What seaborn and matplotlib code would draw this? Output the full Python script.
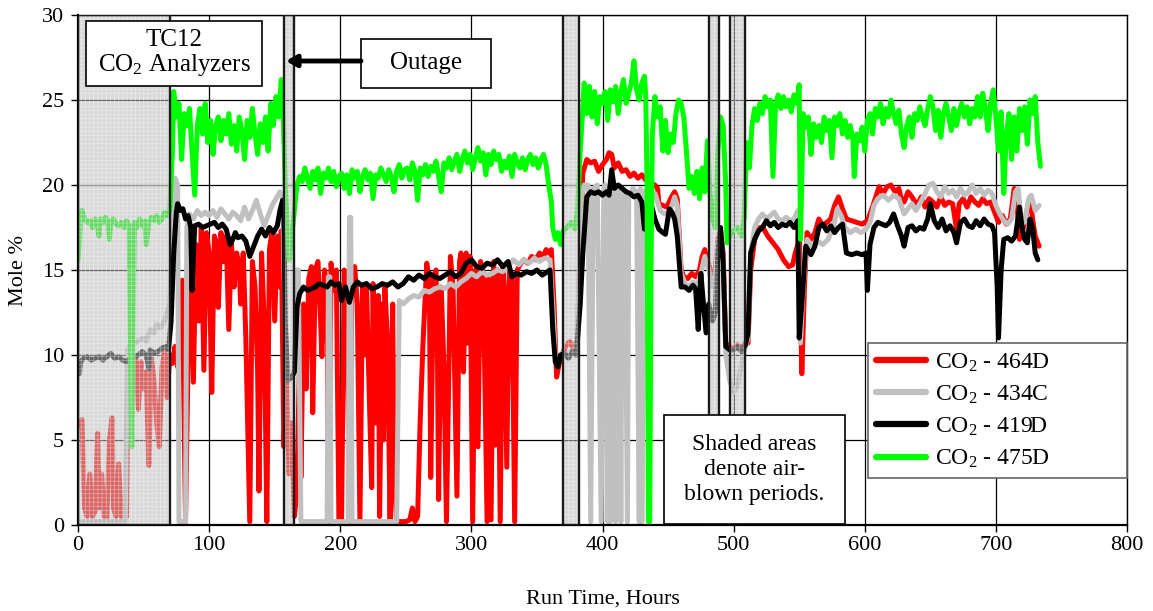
import numpy as np
import pandas as pd
import matplotlib
matplotlib.use("Agg")
import matplotlib.pyplot as plt
from matplotlib.lines import Line2D
from matplotlib.patches import Rectangle
import seaborn as sns

# ---------------- data ----------------
t_464d = [0,1,3,5,7,9,11,13,15,16,18,20,22,24,26,27,29,31,33,35,37,38,40,42,44,46,48,50,52,54,56,58,60,62,64,66,68,70,72,74,76,78,79.5,82,84,86,88,90,92,94,96,98,100,102,104,106,107,109,111,113,115,117,119,121,123,124,126,128,131,133,135,137,138,140,142,144,146,148,150,152,154,155,157,159,161,163,165,167,169,170,172,174,176,178,179,181,183,185,186,188,190,191,193,195,197,199,201,203,205,207,209,211,213,215,217,219,220,222,224,225,227,229,230,232,233,234,236,238,240,241,243,246,250,253,255,257,259,261,263,266,268,269,271,273,274,275,277,279,281,283,284,286,289,291,292,294,296,297,299,301,303,305,307,309,312,313,315,317,318,320,322,324,325,327,329,331,333,335,337,340,343,346,349,352,355,357,359,361,363,365,367,369,372,375,378,381,383,385,388,391,394,397,400,403,405,407,409,412,415,418,421,424,427,430,433,435,437,440,442,443,446,449,452,455,457,460,462,465,468,471,474,476,478,480,483,486,488,490,492,494,497,500,503,506,509,511,513,516,520,523,526,530,534,538,542,545,547,549,550,552,554,556,559,562,565,568,571,574,577,580,583,586,590,594,598,602,605,608,611,614,617,620,623,626,628,630,633,636,640,643,646,649,652,655,658,661,664,667,670,672,675,678,681,684,687,690,693,696,699,702,705,708,711,714,716,718,721,724,726,728,730,733]
v_464d = [5.8,6.0,6.2,1.0,0.5,3.0,0.5,0.8,5.4,1.0,3.0,0.5,0.4,5.0,6.3,1.0,0.5,3.6,0.5,0.3,0.5,8.0,9.5,8.2,9.8,6.8,9.6,8.0,9.0,3.5,9.8,8.5,6.0,4.6,9.2,10.3,7.5,10.0,9.5,10.5,9.3,12.0,14.4,0.2,10.0,16.8,8.4,16.5,12.0,17.5,9.1,17.2,16.0,7.8,17.0,16.5,12.8,17.2,15.5,17.0,11.5,16.6,14.0,16.0,15.2,13.0,16.0,11.0,0.2,15.5,14.0,9.0,2.0,16.0,12.0,0.2,16.2,17.3,12.0,17.0,14.0,17.3,4.6,9.0,3.0,6.0,0.5,2.0,10.0,2.8,13.0,8.0,14.5,15.2,6.6,15.0,15.5,12.0,9.9,15.0,14.0,0.2,15.4,13.8,15.0,0.2,0.3,15.0,14.8,0.2,15.0,15.2,13.0,0.2,14.0,10.0,14.2,8.0,2.2,14.2,6.0,13.5,0.5,13.0,5.0,14.0,11.0,0.2,13.0,3.0,0.2,0.2,0.2,0.3,1.0,0.2,0.5,6.2,10.5,15.4,14.0,2.8,14.5,15.0,11.5,1.5,14.0,9.5,0.2,10.0,15.8,14.0,1.7,15.5,16.0,9.0,16.0,10.7,15.8,0.2,15.0,4.6,15.5,14.8,0.2,14.5,0.3,15.5,4.7,15.0,0.2,15.2,14.0,3.4,15.0,14.5,0.2,15.0,15.3,15.6,15.4,15.8,15.6,16.0,15.8,16.2,16.0,16.2,13.0,8.7,9.5,10.0,10.5,10.8,10.3,11.0,17.0,20.7,21.5,21.3,21.4,20.8,21.2,21.5,21.9,21.8,21.0,21.3,20.8,20.9,20.5,20.7,20.4,20.6,20.3,20.4,20.1,20.0,19.8,18.9,18.8,18.7,19.2,19.6,19.2,15.0,14.6,14.5,14.8,14.6,15.0,15.8,16.2,15.6,14.8,15.0,16.8,17.3,16.0,10.7,10.5,10.3,10.6,10.4,10.7,10.7,15.0,16.8,17.5,17.4,17.0,16.6,16.2,15.6,15.2,15.3,16.0,16.5,18.1,8.9,14.0,17.2,16.8,17.2,18.0,17.6,17.8,18.0,18.8,19.3,18.6,18.0,17.9,17.8,17.7,17.9,18.5,19.2,19.9,19.5,19.9,20.0,19.6,19.8,19.1,19.0,19.6,19.3,18.8,19.3,18.7,19.2,19.0,18.7,19.3,18.8,19.0,18.9,17.4,18.9,19.2,18.7,19.3,19.0,18.8,19.2,18.9,19.0,18.4,17.8,18.2,17.7,18.0,19.8,19.0,16.8,17.5,18.6,19.3,18.0,17.0,16.4]

t_434c = [0,10,20,30,36,37,38,40,45,50,52,55,58,60,63,66,68,70,72,74,76,77,80,82,83,85,88,91,94,97,100,103,106,109,112,115,118,121,124,127,130,133,136,139,142,145,148,151,154,156,158,160,163,165,166,167,168,170,171,180,190,191,192,193,194,200,206,207,208,209,210,220,230,243,245,248,252,256,260,264,268,272,276,280,284,288,292,296,300,304,308,312,316,320,324,328,332,336,340,344,348,352,356,360,362,364,366,369,372,376,380,382,384,386,389,391,393,396,399,401,402,404,405,406,407,409,410,411,413,414,415,417,419,420,423,426,428,429,430,432,434,437,440,442,444,447,450,453,455,457,460,463,466,469,472,475,478,481,484,486,488,490,492,494,497,500,503,506,509,511,513,516,519,522,525,528,531,534,537,540,543,546,549,551,553,556,560,564,568,572,576,579,582,585,589,593,597,601,604,607,610,614,618,622,626,630,633,636,639,642,646,649,652,655,658,661,664,667,670,673,676,679,682,685,688,691,694,697,700,703,706,709,712,715,717,719,722,725,727,730,733]
v_434c = [0.2,0.2,0.2,0.2,0.2,6.0,10.3,10.6,10.8,11.0,10.8,11.5,11.3,11.8,11.6,12.0,12.5,13.0,17.0,20.4,20.0,0.2,0.2,0.2,17.5,18.3,18.0,18.5,18.2,18.4,18.2,18.5,18.1,18.6,18.3,18.0,18.4,18.2,17.9,18.7,18.0,18.5,19.1,18.3,17.6,18.2,18.8,19.2,19.6,19.2,12.0,8.5,8.7,9.0,12.0,15.0,15.0,0.2,0.2,0.2,0.2,14.6,14.6,0.2,0.2,0.2,0.2,18.1,18.1,0.2,0.2,0.2,0.2,0.2,13.2,13.0,13.3,13.5,13.4,13.8,13.7,13.9,14.0,13.9,14.2,14.0,14.3,14.5,14.8,14.6,14.9,14.7,14.8,15.0,14.9,15.2,15.6,15.3,15.6,15.4,15.7,15.5,15.7,15.6,13.0,10.0,9.5,10.1,10.0,10.2,10.0,14.0,19.5,20.0,20.0,0.2,19.8,20.0,0.2,19.8,20.0,0.2,19.9,0.2,20.2,19.8,0.2,19.5,19.7,0.2,19.6,19.5,0.2,19.3,19.8,19.6,0.2,19.8,0.2,19.5,19.8,19.6,19.5,19.0,18.5,18.3,18.4,18.8,19.3,18.8,14.8,14.2,14.0,14.3,14.1,14.8,15.8,15.0,14.0,14.5,16.5,17.3,15.5,10.0,8.5,7.8,8.2,9.5,10.5,11.0,16.0,17.5,18.0,18.3,18.0,18.2,18.4,18.0,17.9,18.1,17.9,18.0,18.5,10.7,14.0,16.8,16.4,16.7,16.5,16.8,17.5,18.6,18.2,17.5,17.2,17.4,17.2,17.4,17.8,18.8,19.2,19.4,19.1,19.4,19.2,18.3,18.6,18.9,18.5,18.9,19.5,20.0,20.1,19.6,19.3,19.9,19.5,19.7,19.3,19.8,19.4,19.6,20.0,19.5,19.8,19.4,19.7,19.5,18.8,18.3,17.9,17.7,18.0,19.6,19.8,18.2,17.8,19.2,19.4,18.5,18.8]

t_419d = [0,1,2,4,7,10,13,16,19,22,25,28,31,34,37,40,43,46,49,52,54,55,58,61,64,67,69,71,73,75,76,78,80,82,84,86,87,89,92,95,98,101,104,107,110,113,116,118,120,122,125,128,131,134,137,140,143,146,149,152,154,156,157,158,160,163,165,167,169,172,175,178,181,184,187,190,193,196,199,201,204,207,210,213,216,220,224,228,232,236,240,244,248,252,256,260,264,268,272,276,280,284,288,292,296,300,304,308,312,316,320,324,328,331,334,338,342,346,350,354,358,360,362,364,366,368,371,374,377,380,383,385,388,391,394,397,400,403,405,407,409,412,415,418,421,424,427,430,432,434,437,440,443,446,448,451,453,455,457,460,463,466,469,471,473,475,477,479,481,484,486,488,490,492,494,497,500,503,506,509,511,513,516,519,522,525,528,531,534,537,540,543,546,549,550,552,555,559,562,565,568,571,574,577,580,583,586,590,594,598,601,602,604,607,610,613,616,619,622,625,628,630,633,636,639,642,645,648,650,653,656,659,662,665,668,670,673,676,679,682,685,688,691,694,697,699,701,702,704,706,709,712,715,718,720,722,724,726,728,730,732]
v_419d = [9.0,8.9,9.6,9.8,9.9,9.7,9.8,9.9,9.7,9.9,10.1,9.8,9.9,9.7,9.6,9.8,9.9,10.0,10.2,10.0,9.2,10.3,10.1,10.2,10.4,10.5,10.3,12.0,16.0,18.4,18.9,18.5,18.6,18.0,18.2,17.5,13.8,17.6,17.7,17.5,17.6,17.7,17.8,17.5,17.7,17.4,16.5,16.8,17.2,16.9,17.0,16.7,15.8,16.4,17.0,17.4,17.0,17.5,17.2,17.6,18.5,19.1,18.9,12.0,8.5,8.7,9.0,12.8,13.6,14.0,13.8,13.9,14.0,14.2,14.1,14.0,14.3,14.1,14.2,13.2,14.0,13.1,14.0,14.3,14.1,14.2,13.9,14.0,14.2,14.1,14.3,14.0,14.2,14.6,14.4,14.7,14.5,14.8,14.6,14.5,14.7,14.9,14.6,14.8,15.4,15.6,15.2,15.1,15.4,15.3,15.6,15.2,15.5,14.6,14.8,14.7,14.9,14.8,15.0,14.7,14.9,15.0,11.6,9.6,9.3,10.0,10.1,9.8,10.2,10.0,13.0,16.0,19.3,19.6,19.5,19.6,19.4,19.6,19.4,20.9,19.8,20.0,19.8,19.6,19.5,19.3,19.4,19.0,17.4,18.5,18.9,18.0,17.4,17.2,17.1,18.6,18.4,18.0,17.0,14.0,14.0,13.8,14.1,13.9,11.5,14.8,13.0,11.3,13.0,12.0,12.5,16.0,17.5,15.5,10.5,10.3,10.3,10.5,10.2,10.6,11.3,16.0,16.8,17.3,17.5,17.9,17.6,17.8,17.5,17.7,17.6,17.8,17.5,17.9,11.0,13.0,16.4,15.9,16.4,17.5,17.7,17.3,17.6,17.2,17.5,17.7,16.0,15.9,16.0,15.9,16.0,13.8,16.5,17.5,17.8,17.7,17.6,17.8,18.3,17.6,17.0,16.4,17.5,17.6,17.3,17.5,17.4,18.0,18.9,17.9,17.5,18.0,17.3,17.6,17.2,16.6,17.8,18.0,17.6,17.5,17.9,17.6,18.0,17.7,17.6,17.2,14.0,11.0,15.0,16.8,16.9,16.7,17.0,18.7,17.5,16.8,16.6,18.0,17.5,16.0,15.6]

t_475d = [0,1,2,3,5,7,9,11,13,15,16,17,19,21,23,24,25,27,29,31,33,35,37,39,40,41,42,43,45,47,49,51,52,54,56,58,60,62,64,66,68,70,72,73,75,77,79,81,83,85,87,89,91,93,95,97,99,101,103,105,107,109,111,113,115,117,119,121,123,125,127,129,131,133,135,137,139,141,143,145,147,149,151,153,155,156,158,161,163,165,167,169,171,173,175,177,179,181,183,185,187,189,191,193,195,197,199,201,203,205,207,209,211,213,215,217,219,221,223,225,227,229,231,233,235,237,239,241,243,245,247,249,251,253,255,257,259,261,263,265,267,269,271,273,275,277,279,281,283,285,287,289,291,293,295,297,299,301,303,305,307,309,311,313,315,317,319,321,323,325,327,329,331,333,335,337,339,341,343,345,347,349,351,353,355,357,359,361,362,364,366,368,370,373,376,379,381,383,385,386,388,390,392,394,396,398,400,402,404,406,408,410,412,414,416,418,420,422,424,426,428,430,432,433,434,435,436,437,438,440,442,444,446,448,450,452,454,456,458,460,462,464,466,468,470,472,474,476,478,480,482,484,486,488,490,492,494,495,497,500,503,506,508,510,512,514,516,518,520,522,524,526,528,530,532,534,536,538,540,542,544,546,548,550,551,553,555,557,559,561,563,565,567,569,571,573,575,577,579,581,583,585,587,589,591,592,594,596,598,600,602,604,606,608,610,612,614,616,618,620,622,624,626,628,630,632,634,636,638,640,642,644,646,648,650,652,654,656,658,660,662,664,666,668,670,672,674,676,678,680,682,684,686,688,690,692,694,696,698,700,702,704,706,708,710,712,714,716,718,720,722,724,726,728,730,732,734]
v_475d = [15.6,16.5,18.0,18.5,18.0,17.8,17.9,17.5,18.0,17.6,17.0,18.0,17.8,18.1,17.6,16.8,17.9,18.0,17.7,17.6,17.8,17.5,17.9,17.6,10.0,4.6,12.0,17.8,17.5,18.0,17.6,17.9,16.5,17.8,18.1,17.9,18.2,17.8,18.0,18.4,18.2,18.5,22.0,25.5,24.0,24.8,21.5,24.2,23.5,24.5,22.0,19.4,23.5,24.5,23.0,24.8,22.5,23.8,21.8,23.5,24.0,22.6,23.8,23.0,24.2,22.4,23.5,22.0,24.0,23.2,21.5,23.8,22.8,24.5,23.0,21.8,23.6,22.5,24.0,22.0,24.8,23.5,25.2,24.0,26.2,25.5,20.0,15.6,17.0,18.5,20.0,20.5,20.2,21.0,20.4,19.8,20.8,20.3,21.0,19.5,20.7,20.4,21.0,20.2,20.8,19.9,20.5,20.7,19.8,20.6,19.5,20.9,20.4,20.8,19.6,20.5,20.9,20.3,20.7,19.2,20.6,20.4,21.0,20.6,20.2,20.9,20.5,19.6,20.8,21.2,20.4,20.9,21.0,20.3,21.3,20.8,19.1,21.0,20.6,21.2,20.5,21.1,20.8,21.4,20.5,19.6,21.3,21.0,21.6,20.9,21.4,21.8,20.8,21.5,22.0,21.3,21.8,20.9,21.6,22.2,21.4,21.9,20.6,21.8,21.2,22.0,21.5,21.8,20.8,21.4,21.0,21.7,20.5,21.8,21.3,21.0,21.6,20.9,21.5,21.8,21.2,21.6,21.0,21.5,21.8,21.2,20.0,19.0,17.5,16.8,17.2,16.5,17.3,17.5,17.8,17.4,18.5,22.0,24.5,26.0,24.2,25.8,24.0,25.5,23.6,25.2,24.8,25.5,23.8,25.6,24.9,25.8,24.2,25.5,26.2,24.8,25.4,26.0,27.3,25.6,25.0,26.0,26.4,25.2,20.0,0.2,0.2,15.0,23.0,25.2,24.0,24.6,22.0,23.8,21.9,23.0,22.5,24.2,25.0,24.8,24.0,22.0,19.8,20.5,19.5,20.8,19.2,21.0,19.6,22.6,19.5,18.0,17.5,22.0,24.0,23.5,20.0,16.6,17.0,17.3,17.5,17.0,18.0,22.5,21.0,23.5,24.5,23.8,24.8,24.2,25.2,24.6,25.0,20.5,24.8,25.3,24.5,25.2,24.6,25.0,24.3,25.3,24.8,25.9,16.8,24.2,23.4,24.0,21.8,23.6,22.8,23.5,22.5,24.0,23.2,23.8,21.6,24.0,23.5,24.2,23.0,23.8,22.8,23.5,22.6,20.5,23.0,22.6,23.4,22.0,23.8,24.2,23.0,24.5,24.0,24.8,23.6,24.5,24.0,25.0,24.2,23.6,24.4,23.0,22.2,23.5,24.0,22.8,24.2,23.8,24.6,24.0,23.5,24.5,25.2,24.6,23.2,24.4,22.8,24.2,24.8,24.0,23.2,24.5,23.5,24.3,24.8,24.0,24.6,23.6,24.5,24.0,25.2,24.0,25.4,24.5,23.2,24.8,25.6,24.0,22.0,24.3,19.5,23.0,24.2,21.5,24.0,22.0,24.5,23.2,24.6,22.4,25.0,24.2,25.2,22.5,21.1]

series_names = ["CO2 - 464D", "CO2 - 434C", "CO2 - 419D", "CO2 - 475D"]
legend_labels = [r"CO$_2$ - 464D", r"CO$_2$ - 434C", r"CO$_2$ - 419D", r"CO$_2$ - 475D"]
airblown_periods = [(0, 70), (157, 165), (370, 382), (481, 488.5), (497, 508.5)]
x_ticks = [0, 100, 200, 300, 400, 500, 600, 700, 800]
y_ticks = [0, 5, 10, 15, 20, 25, 30]

# ---------------- style ----------------
sns.set_style("white")
plt.rcParams["font.family"] = ["Liberation Serif", "DejaVu Serif"]
plt.rcParams["mathtext.fontset"] = "custom"
plt.rcParams["mathtext.rm"] = "Liberation Serif"
plt.rcParams["mathtext.it"] = "Liberation Serif:italic"
plt.rcParams["hatch.linewidth"] = 0.6
for k in ["text.color", "axes.labelcolor", "xtick.color", "ytick.color",
          "xtick.labelcolor", "ytick.labelcolor"]:
    plt.rcParams[k] = "black"

colors = {"CO2 - 464D": "#ff0000", "CO2 - 434C": "#c0c0c0",
          "CO2 - 419D": "#000000", "CO2 - 475D": "#00ff00"}

frames = []
for name, t, v in zip(series_names, [t_464d, t_434c, t_419d, t_475d],
                      [v_464d, v_434c, v_419d, v_475d]):
    frames.append(pd.DataFrame({"t": t, "v": v, "series": name}))
df = pd.concat(frames, ignore_index=True)

fig = plt.figure(figsize=(11.53, 6.11), dpi=100)
ax = fig.add_axes([78/1153, 1 - 525/611, 1049/1153, 510/611])

sns.lineplot(data=df, x="t", y="v", hue="series", hue_order=series_names,
             palette=colors, estimator=None, linewidth=3.6, legend=False,
             ax=ax, zorder=2)

ax.set_xlim(0, 800)
ax.set_ylim(0, 30)
ax.set_xticks(x_ticks)
ax.set_yticks(y_ticks)
ax.tick_params(axis="both", labelsize=16, direction="out", length=5,
               width=1, color="black", labelcolor="black",
               left=True, bottom=True)
ax.tick_params(axis="x", pad=3)
ax.tick_params(axis="y", pad=5)
ax.grid(True, color="black", linewidth=0.9)
ax.set_axisbelow(True)
for s in ax.spines.values():
    s.set_color("black")
    s.set_linewidth(1.0)
ax.spines["left"].set_linewidth(1.6)
ax.spines["bottom"].set_linewidth(1.6)

ax.set_xlabel("Run Time, Hours", fontsize=16, labelpad=25, color="black")
ax.set_ylabel("Mole %", fontsize=16, labelpad=10, color="black")

# shaded air-blown periods
for (a, b) in airblown_periods:
    ax.axvspan(a, b, facecolor=(0.72, 0.72, 0.72), alpha=0.55, lw=0, zorder=4)
    ax.axvspan(a, b, facecolor="none", edgecolor=(1, 1, 1, 0.4), hatch="++++",
               lw=0, zorder=4.1)
    ax.axvspan(a, b, facecolor="none", edgecolor="#1a1a1a", lw=1.7, zorder=4.2)

# annotation boxes (axes fraction)
def fx(px):
    return (px - 78) / 1049
def fy(py):
    return (525 - py) / 510

box_kw = dict(facecolor="white", edgecolor="black", lw=1.2,
              transform=ax.transAxes, zorder=6)
ax.add_patch(Rectangle((fx(86), fy(86)), fx(262) - fx(86), fy(21) - fy(86), **box_kw))
ax.text((fx(86) + fx(262)) / 2, (fy(86) + fy(21)) / 2, "TC12\nCO$_2$ Analyzers",
        transform=ax.transAxes, ha="center", va="center", fontsize=18,
        linespacing=1.1, zorder=7)

ax.add_patch(Rectangle((fx(361), fy(88)), fx(491) - fx(361), fy(39) - fy(88), **box_kw))
ax.text((fx(361) + fx(491)) / 2, (fy(88) + fy(39)) / 2, "Outage",
        transform=ax.transAxes, ha="center", va="center", fontsize=18, zorder=7)
ax.annotate("", xy=(fx(286), fy(61)), xytext=(fx(361), fy(61)),
            xycoords="axes fraction", textcoords="axes fraction",
            arrowprops=dict(arrowstyle="-|>,head_length=0.6,head_width=0.35",
                            lw=3.5, color="black", shrinkA=0, shrinkB=0),
            zorder=7)

ax.add_patch(Rectangle((fx(664), fy(524)), fx(845) - fx(664), fy(415) - fy(524), **box_kw))
ax.text((fx(664) + fx(845)) / 2, (fy(524) + fy(415)) / 2,
        "Shaded areas\ndenote air-\nblown periods.",
        transform=ax.transAxes, ha="center", va="center", fontsize=17,
        linespacing=1.25, zorder=7)

handles = [Line2D([0], [0], color=colors[n], lw=4.5) for n in series_names]
leg = ax.legend(handles, legend_labels, loc="upper left",
                bbox_to_anchor=(fx(868), fy(343), 1 - fx(868), 0.0),
                mode="expand", borderaxespad=0,
                fontsize=17, frameon=True, fancybox=False, framealpha=1,
                edgecolor="#666666", handlelength=2.1, handletextpad=0.4,
                labelspacing=0.42, borderpad=0.35)
leg.set_zorder(8)
leg.get_frame().set_linewidth(1.2)
leg._legend_box.align = "left"
for txt in leg.get_texts():
    txt.set_color("black")

fig.savefig("out.png", dpi=100)
